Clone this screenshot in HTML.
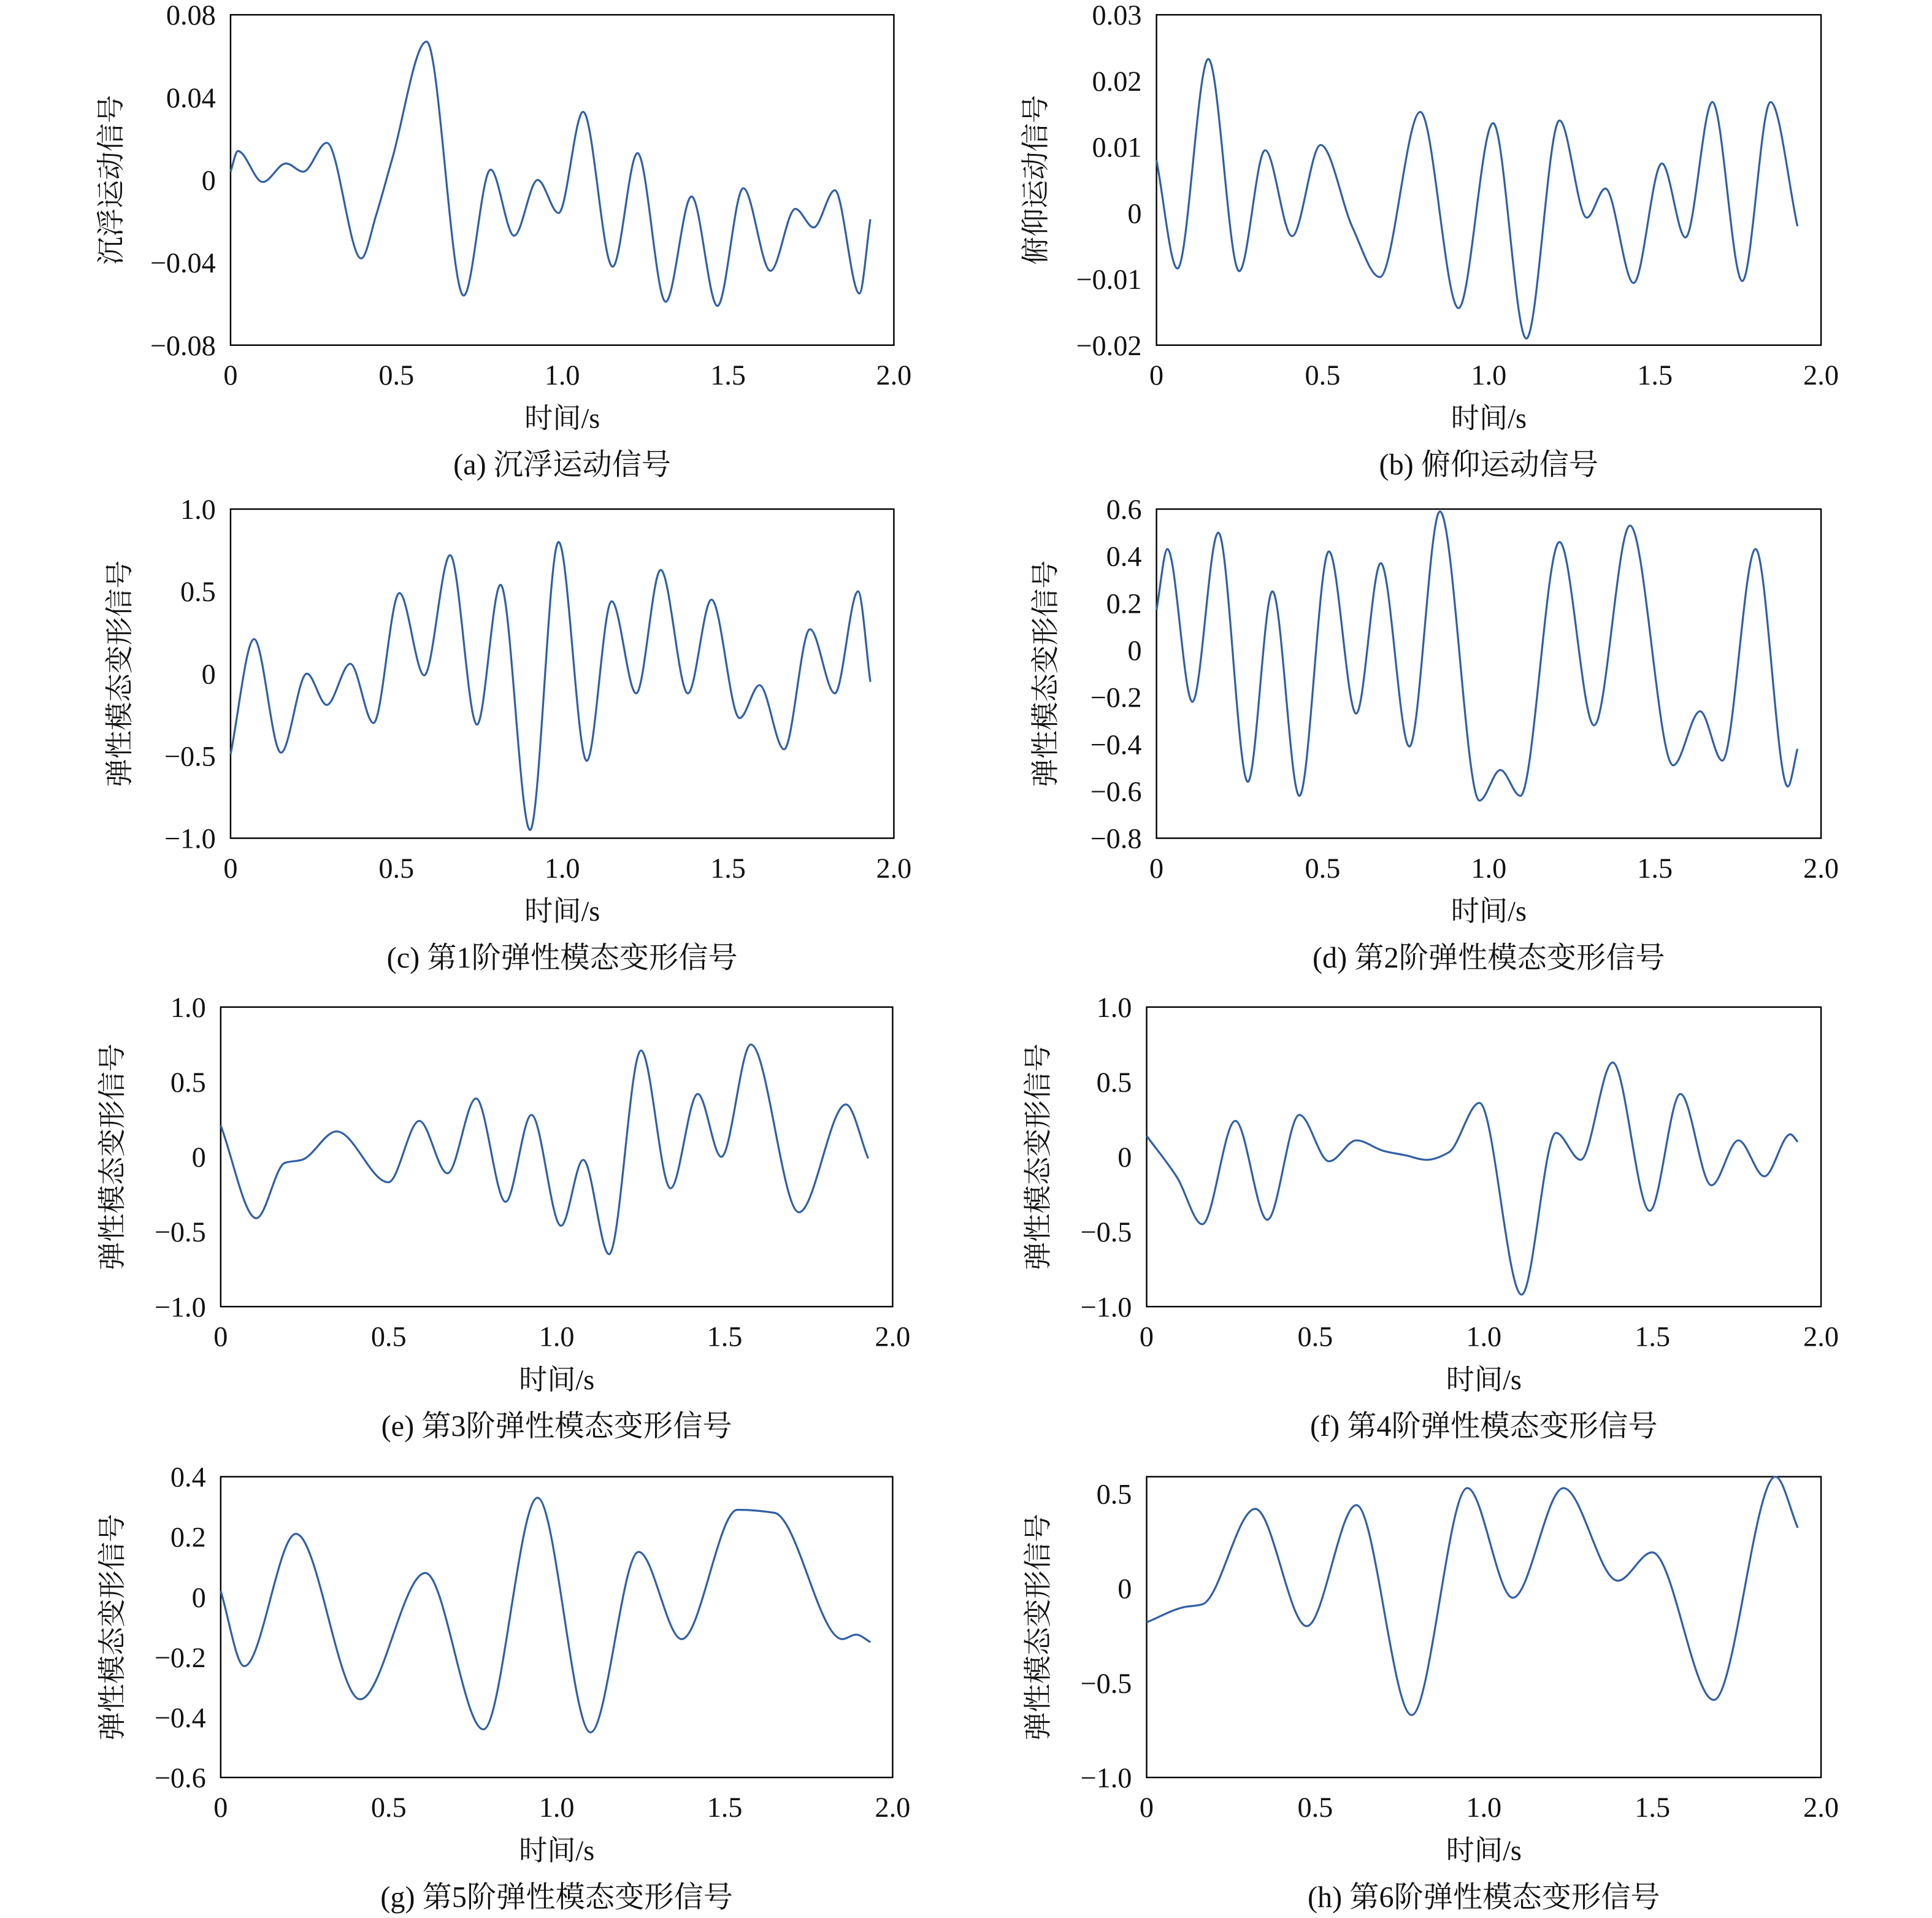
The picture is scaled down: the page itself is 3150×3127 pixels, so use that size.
<!DOCTYPE html>
<html><head><meta charset="utf-8">
<style>
html,body{margin:0;padding:0;background:#fff;}
svg{display:block;}
text{font-family:"Liberation Serif","Noto Serif CJK SC","Noto Sans CJK SC",serif;fill:#111;}
</style></head>
<body>
<svg id="fig" width="3150" height="3127" viewBox="0 0 1567 1556" preserveAspectRatio="none" xmlns="http://www.w3.org/2000/svg"></svg>
<script>
// ---- data (time in s, signal value) ----
const aT=[0,0.022,0.097,0.167,0.219,0.290,0.394,0.439,0.487,0.591,0.703,0.784,0.855,0.926,0.989,1.063,1.152,1.227,1.312,1.390,1.468,1.546,1.628,1.703,1.758,1.822,1.896,1.929];
const aV=[0.004,0.014,-0.001,0.008,0.004,0.018,-0.038,-0.017,0.010,0.067,-0.056,0.005,-0.027,0.000,-0.016,0.033,-0.042,0.013,-0.059,-0.008,-0.061,-0.004,-0.044,-0.014,-0.023,-0.005,-0.055,-0.019];
const bT=[0,0.063,0.156,0.249,0.327,0.408,0.494,0.590,0.672,0.794,0.909,1.013,1.113,1.213,1.295,1.351,1.436,1.521,1.592,1.673,1.763,1.848,1.929];
const bV=[0.008,-0.0084,0.0233,-0.0088,0.0095,-0.0035,0.0103,-0.0022,-0.0097,0.0153,-0.0144,0.0136,-0.019,0.014,-0.0007,0.0037,-0.0106,0.0075,-0.0037,0.0168,-0.0103,0.0168,-0.002];
const cT=[0,0.071,0.152,0.230,0.290,0.361,0.431,0.509,0.584,0.662,0.743,0.814,0.903,0.989,1.074,1.149,1.223,1.297,1.379,1.450,1.535,1.595,1.669,1.747,1.822,1.892,1.929];
const cV=[-0.49,0.21,-0.48,0,-0.19,0.06,-0.30,0.49,-0.01,0.72,-0.31,0.54,-0.95,0.80,-0.53,0.44,-0.12,0.63,-0.12,0.45,-0.27,-0.07,-0.46,0.27,-0.12,0.50,-0.05];
const dT=[0,0.033,0.108,0.186,0.275,0.349,0.430,0.519,0.601,0.675,0.761,0.853,0.972,1.035,1.095,1.213,1.317,1.425,1.555,1.636,1.703,1.803,1.900,1.929];
const dV=[0.17,0.43,-0.22,0.50,-0.56,0.25,-0.62,0.42,-0.27,0.37,-0.41,0.59,-0.64,-0.51,-0.62,0.46,-0.32,0.53,-0.49,-0.26,-0.47,0.43,-0.58,-0.42];
const eT=[0,0.106,0.191,0.242,0.345,0.499,0.591,0.675,0.760,0.848,0.925,1.013,1.079,1.156,1.251,1.339,1.420,1.490,1.578,1.721,1.861,1.927];
const eV=[0.21,-0.41,-0.04,-0.02,0.17,-0.17,0.24,-0.11,0.39,-0.30,0.28,-0.46,-0.02,-0.65,0.71,-0.21,0.42,0,0.75,-0.37,0.35,-0.01];
const fT=[0,0.091,0.165,0.263,0.358,0.453,0.541,0.622,0.702,0.768,0.830,0.896,0.987,1.112,1.214,1.287,1.382,1.492,1.583,1.675,1.755,1.832,1.909,1.931];
const fV=[0.14,-0.14,-0.45,0.24,-0.42,0.28,-0.03,0.11,0.04,0.01,-0.02,0.03,0.36,-0.92,0.16,-0.02,0.63,-0.36,0.42,-0.19,0.11,-0.13,0.15,0.10];
const gT=[0,0.070,0.224,0.415,0.609,0.782,0.943,1.101,1.244,1.372,1.538,1.648,1.850,1.891,1.934];
const gV=[0.02,-0.23,0.21,-0.34,0.08,-0.44,0.33,-0.45,0.15,-0.14,0.29,0.28,-0.14,-0.125,-0.15];
const hT=[0,0.110,0.165,0.322,0.475,0.622,0.786,0.951,1.086,1.236,1.397,1.499,1.682,1.865,1.931];
const hV=[-0.18,-0.10,-0.085,0.42,-0.20,0.44,-0.67,0.53,-0.05,0.53,0.04,0.19,-0.59,0.59,0.32];
const xTicks=[0,0.5,1.0,1.5,2.0];
const xTickLabels=["0","0.5","1.0","1.5","2.0"];
const yTicksA=[0.08,0.04,0,-0.04,-0.08]; const yLabA=["0.08","0.04","0","\u22120.04","\u22120.08"];
const yTicksB=[0.03,0.02,0.01,0,-0.01,-0.02]; const yLabB=["0.03","0.02","0.01","0","\u22120.01","\u22120.02"];
const yTicksC=[1,0.5,0,-0.5,-1]; const yLabC=["1.0","0.5","0","\u22120.5","\u22121.0"];
const yTicksD=[0.6,0.4,0.2,0,-0.2,-0.4,-0.6,-0.8]; const yLabD=["0.6","0.4","0.2","0","\u22120.2","\u22120.4","\u22120.6","\u22120.8"];
const yTicksG=[0.4,0.2,0,-0.2,-0.4,-0.6]; const yLabG=["0.4","0.2","0","\u22120.2","\u22120.4","\u22120.6"];
const yTicksH=[0.5,0,-0.5,-1]; const yLabH=["0.5","0","\u22120.5","\u22121.0"];

const NS="http://www.w3.org/2000/svg";
const svg=document.getElementById('fig');
function mk(tag,attrs,parent){const e=document.createElementNS(NS,tag);for(const k in attrs)e.setAttribute(k,attrs[k]);(parent||svg).appendChild(e);return e;}

function monoPath(T,V,sx,sy){
  const n=T.length,d=[],m=[];
  for(let i=0;i<n-1;i++)d.push((V[i+1]-V[i])/(T[i+1]-T[i]));
  m[0]=d[0];m[n-1]=d[n-2];
  for(let i=1;i<n-1;i++){ if(d[i-1]*d[i]<=0)m[i]=0; else m[i]=2/(1/d[i-1]+1/d[i]); }
  let p="M"+sx(T[0]).toFixed(2)+","+sy(V[0]).toFixed(2);
  for(let i=0;i<n-1;i++){const h=T[i+1]-T[i];
    p+=" C"+sx(T[i]+h/3).toFixed(2)+","+sy(V[i]+m[i]*h/3).toFixed(2)+" "+sx(T[i+1]-h/3).toFixed(2)+","+sy(V[i+1]-m[i+1]*h/3).toFixed(2)+" "+sx(T[i+1]).toFixed(2)+","+sy(V[i+1]).toFixed(2);}
  return p;
}

const panels=[
 {id:'a',x0:187,x1:725,y0:12,y1:280,ymax:0.08,ymin:-0.08,T:aT,V:aV,yt:yTicksA,yl:yLabA,yTitle:"沉浮运动信号",tx:90,cap:"(a) 沉浮运动信号"},
 {id:'b',x0:938,x1:1477,y0:12,y1:280,ymax:0.03,ymin:-0.02,T:bT,V:bV,yt:yTicksB,yl:yLabB,yTitle:"俯仰运动信号",tx:840,cap:"(b) 俯仰运动信号"},
 {id:'c',x0:187,x1:725,y0:413,y1:680,ymax:1,ymin:-1,T:cT,V:cV,yt:yTicksC,yl:yLabC,yTitle:"弹性模态变形信号",tx:97,cap:"(c) 第1阶弹性模态变形信号"},
 {id:'d',x0:938,x1:1477,y0:413,y1:680,ymax:0.6,ymin:-0.8,T:dT,V:dV,yt:yTicksD,yl:yLabD,yTitle:"弹性模态变形信号",tx:848,cap:"(d) 第2阶弹性模态变形信号"},
 {id:'e',x0:179,x1:724,y0:817,y1:1060,ymax:1,ymin:-1,T:eT,V:eV,yt:yTicksC,yl:yLabC,yTitle:"弹性模态变形信号",tx:91,cap:"(e) 第3阶弹性模态变形信号"},
 {id:'f',x0:930,x1:1477,y0:817,y1:1060,ymax:1,ymin:-1,T:fT,V:fV,yt:yTicksC,yl:yLabC,yTitle:"弹性模态变形信号",tx:842,cap:"(f) 第4阶弹性模态变形信号"},
 {id:'g',x0:179,x1:724,y0:1198,y1:1442,ymax:0.4,ymin:-0.6,T:gT,V:gV,yt:yTicksG,yl:yLabG,yTitle:"弹性模态变形信号",tx:91,cap:"(g) 第5阶弹性模态变形信号"},
 {id:'h',x0:930,x1:1477,y0:1198,y1:1442,ymax:0.59,ymin:-1,T:hT,V:hV,yt:yTicksH,yl:yLabH,yTitle:"弹性模态变形信号",tx:842,cap:"(h) 第6阶弹性模态变形信号"}
];

panels.forEach(P=>{
  const g=mk('g',{});
  
  
  const sx=t=>P.x0+(t-0)/(2-0)*(P.x1-P.x0);
  const sy=v=>P.y1-(v-P.ymin)/(P.ymax-P.ymin)*(P.y1-P.y0);
  const box=mk('rect',{x:P.x0,y:P.y0,width:P.x1-P.x0,height:P.y1-P.y0,fill:'none',stroke:'#000','stroke-width':1.2},g);
  
  
  const line=mk('path',{d:monoPath(P.T,P.V,sx,sy),fill:'none',stroke:'#2f5fa7','stroke-width':1.6,'stroke-linejoin':'round'},g);
  
  
  xTicks.forEach((t,i)=>{
    const tx=mk('text',{x:sx(t),y:P.y1+32,'font-size':23,'text-anchor':'middle'},g);
    tx.textContent=xTickLabels[i];
    
    
  });
  P.yt.forEach((v,i)=>{
    const ty=mk('text',{x:P.x0-12,y:sy(v)+8,'font-size':23,'text-anchor':'end'},g);
    ty.textContent=P.yl[i];
    
    
  });
  const cx=(P.x0+P.x1)/2;
  const xt=mk('text',{x:cx,y:P.y1+67,'font-size':23,'text-anchor':'middle'},g);
  xt.textContent="时间/s";
  
  
  const cy=(P.y0+P.y1)/2;
  const yt=mk('text',{x:P.tx,y:cy,'font-size':23,'text-anchor':'middle',transform:'rotate(-90 '+P.tx+' '+cy+')','dominant-baseline':'central'},g);
  yt.textContent=P.yTitle;
  
  
  const cp=mk('text',{x:cx,y:P.y1+105,'font-size':24,'text-anchor':'middle'},g);
  cp.textContent=P.cap;
  
  
});
</script>
</body></html>
